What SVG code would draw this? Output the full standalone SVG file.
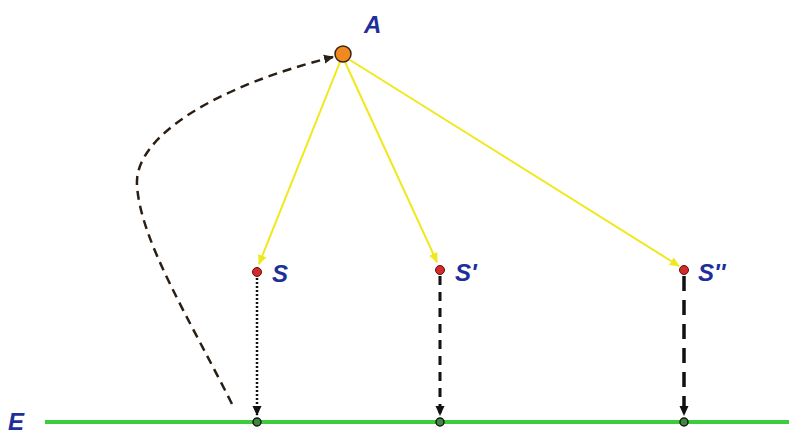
<svg xmlns="http://www.w3.org/2000/svg" width="789" height="437" viewBox="0 0 789 437">
<style>
.lbl{font-family:"Liberation Sans",Arial,sans-serif;font-weight:bold;font-style:italic;fill:#1e2f9c;font-size:24px}
.ray{stroke:#f0e81c;stroke-width:2;fill:none}
.src{fill:#d42a2a;stroke:#5a1010;stroke-width:1}
.gnd{fill:#3f8a3a;stroke:#1a1a1a;stroke-width:1.5}
.drop{stroke:#111;fill:none}
</style>
<defs>
<marker id="ya" markerWidth="11" markerHeight="11" refX="9" refY="5.5" orient="auto" markerUnits="userSpaceOnUse">
<path d="M0,1 L10,5.5 L0,10 Z" fill="#f0e81c"/>
</marker>
<marker id="ka" markerWidth="11" markerHeight="11" refX="9" refY="5.5" orient="auto" markerUnits="userSpaceOnUse">
<path d="M0,1 L10,5.5 L0,10 Z" fill="#111"/>
</marker>
<marker id="ba" markerWidth="11" markerHeight="11" refX="9" refY="5.5" orient="auto" markerUnits="userSpaceOnUse">
<path d="M0,1 L10,5.5 L0,10 Z" fill="#2a1f14"/>
</marker>
</defs>
<g id="E">
<line x1="45" y1="422" x2="789" y2="422" stroke="#3ccc3c" stroke-width="4"/>
<text class="lbl" x="8" y="430">E</text>
</g>
<g id="connectors">
<path class="ray" d="M340,62 L259,264" marker-end="url(#ya)"/>
<path class="ray" d="M345,62 L437,262" marker-end="url(#ya)"/>
<path class="ray" d="M350,60 L679,266" marker-end="url(#ya)"/>
<path class="drop" d="M257,278 L257,415" stroke-width="2.5" stroke-dasharray="2,2" marker-end="url(#ka)"/>
<path class="drop" d="M440,276 L440,415" stroke-width="3" stroke-dasharray="9,7" marker-end="url(#ka)"/>
<path class="drop" d="M684,276 L684,415" stroke-width="3.5" stroke-dasharray="15,9" marker-end="url(#ka)"/>
<path d="M232,404 C190,320 140,240 137,185 C134,135 220,85 333,57" fill="none" stroke="#2a1f14" stroke-width="2.5" stroke-dasharray="9,6" marker-end="url(#ba)"/>
</g>
<g id="A">
<circle cx="343" cy="54" r="8" fill="#f08a20" stroke="#3a2410" stroke-width="1.5"/>
<text class="lbl" x="364" y="33">A</text>
</g>
<g id="S">
<circle class="src" cx="257" cy="272" r="4.5"/>
<text class="lbl" x="272" y="282">S</text>
</g>
<g id="S1">
<circle class="src" cx="440" cy="270" r="4.5"/>
<text class="lbl" x="455" y="281">S'</text>
</g>
<g id="S2">
<circle class="src" cx="684" cy="270" r="4.5"/>
<text class="lbl" x="698" y="281">S''</text>
</g>
<g id="G">
<circle class="gnd" cx="257" cy="422" r="4"/>
<circle class="gnd" cx="440" cy="422" r="4"/>
<circle class="gnd" cx="684" cy="422" r="4"/>
</g>
</svg>
